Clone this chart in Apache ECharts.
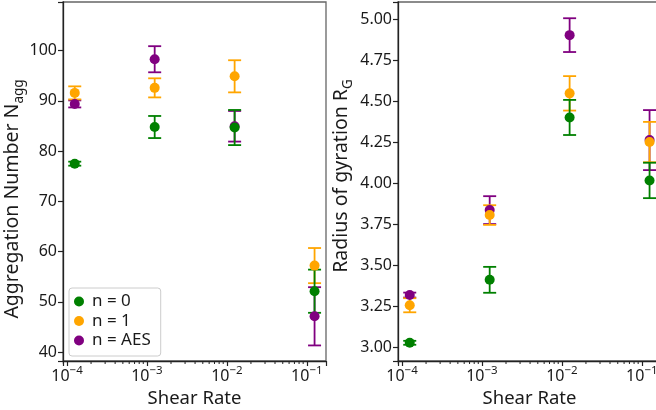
<!DOCTYPE html>
<html><head><meta charset="utf-8">
<script src="https://cdn.jsdelivr.net/npm/echarts@6/dist/echarts.min.js"></script>
<style>html,body{margin:0;padding:0;background:#fff}#c{width:656px;height:410px}</style>
</head><body><div id="c"></div>
<script>
// ---- data ----
const shearRates = [1.25e-4, 1.25e-3, 1.25e-2, 1.25e-1];
const seriesNames = ['n = 0', 'n = 1', 'n = AES'];
const seriesColors = ['#008000', '#FFA500', '#800080'];
const aggN0 = [77.5, 84.8, 84.7, 52.1];
const aggN0Err = [0.4, 2.2, 3.5, 4.3];
const aggN1 = [91.6, 92.6, 94.9, 57.2];
const aggN1Err = [1.3, 1.9, 3.2, 3.5];
const aggAES = [89.4, 98.3, 84.95, 47.1];
const aggAESErr = [0.7, 2.6, 3.05, 5.8];
const rgN0 = [3.026, 3.41, 4.40, 4.016];
const rgN0Err = [0.012, 0.079, 0.107, 0.108];
const rgN1 = [3.255, 3.805, 4.547, 4.25];
const rgN1Err = [0.043, 0.06, 0.105, 0.123];
const rgAES = [3.317, 3.835, 4.902, 4.262];
const rgAESErr = [0.015, 0.085, 0.103, 0.183];
const aggTickStep = 10;
const rgTickStep = 0.25;
const xTitle = 'Shear Rate';
const aggTitle = ['Aggregation Number N', 'agg'];
const rgTitle = ['Radius of gyration R', 'G'];

const FONT = 'Noto Sans';
const TXT = '#1a1a1a';
const xMin = Math.pow(10, -4.05), xMax = Math.pow(10, -0.76);
const aggMin = 38.2, aggMax = 109.7;
const rgMin = 2.915, rgMax = 5.104;

function minorTickValues(lo, hi) {
  const out = [];
  for (let e = -6; e <= 1; e++) for (let m = 2; m <= 9; m++) {
    const v = m * Math.pow(10, e);
    if (v > lo && v < hi) out.push(v);
  }
  return out;
}

function errRender(params, api) {
  const x = api.value(0), y = api.value(1), e = api.value(2);
  const top = api.coord([x, y + e]), bot = api.coord([x, y - e]);
  const hw = 6.5;
  const st = { stroke: api.visual('color'), lineWidth: 1.8 };
  return { type: 'group', children: [
    { type: 'line', shape: { x1: top[0], y1: top[1], x2: bot[0], y2: bot[1] }, style: st },
    { type: 'line', shape: { x1: top[0] - hw, y1: top[1], x2: top[0] + hw, y2: top[1] }, style: st },
    { type: 'line', shape: { x1: bot[0] - hw, y1: bot[1], x2: bot[0] + hw, y2: bot[1] }, style: st }
  ]};
}
function minorRender(params, api) {
  const p = api.coord([api.value(0), api.value(1)]);
  return { type: 'line', shape: { x1: p[0], y1: p[1], x2: p[0], y2: p[1] + 3 },
           style: { stroke: '#222', lineWidth: 1 } };
}

const groups = [
  { grid: 0, vals: [aggN0, aggN1, aggAES], errs: [aggN0Err, aggN1Err, aggAESErr], ymin: aggMin },
  { grid: 1, vals: [rgN0, rgN1, rgAES], errs: [rgN0Err, rgN1Err, rgAESErr], ymin: rgMin }
];
const series = [];
const drawOrder = [2, 1, 0];
groups.forEach(g => {
  series.push({
    type: 'custom', name: 'minor' + g.grid, xAxisIndex: g.grid, yAxisIndex: g.grid,
    silent: true, clip: false, renderItem: minorRender,
    data: minorTickValues(xMin, xMax).map(v => [v, g.ymin])
  });
  drawOrder.forEach(k => {
    series.push({
      type: 'custom', name: 'err ' + seriesNames[k], xAxisIndex: g.grid, yAxisIndex: g.grid,
      silent: true, clip: false, renderItem: errRender, itemStyle: { color: seriesColors[k] },
      encode: { x: 0, y: 1 },
      data: shearRates.map((x, i) => [x, g.vals[k][i], g.errs[k][i]])
    });
    series.push({
      type: 'scatter', name: seriesNames[k], xAxisIndex: g.grid, yAxisIndex: g.grid,
      symbolSize: 10, itemStyle: { color: seriesColors[k], opacity: 1 },
      data: shearRates.map((x, i) => [x, g.vals[k][i]])
    });
  });
});

function xAxisCfg(idx) {
  return {
    type: 'log', logBase: 10, gridIndex: idx, min: xMin, max: xMax,
    axisLine: { show: true, onZero: false, lineStyle: { color: '#222', width: 1.3 } },
    axisTick: { show: true, length: 5, lineStyle: { color: '#222', width: 1.2 } },
    splitLine: { show: false },
    axisLabel: {
      margin: 4, hideOverlap: false,
      formatter: v => {
        const e = Math.log10(v);
        if (Math.abs(e - Math.round(e)) > 1e-6) return '';
        const r = Math.round(e);
        return '{b|10}{s|' + (r < 0 ? '\u2212' + (-r) : r) + '}';
      },
      rich: {
        b: { fontSize: 16, fontFamily: FONT, color: TXT, verticalAlign: 'bottom' },
        s: { fontSize: 11.5, fontFamily: FONT, color: TXT, verticalAlign: 'bottom', padding: [0, 0, 7, 0] }
      }
    },
    name: xTitle, nameLocation: 'middle', nameGap: 24,
    nameTextStyle: { fontSize: 18.5, fontFamily: FONT, color: TXT }
  };
}
function yAxisCfg(idx, mn, mx, step, dec) {
  return {
    type: 'value', gridIndex: idx, min: mn, max: mx, minInterval: step, maxInterval: step,
    axisLine: { show: true, onZero: false, lineStyle: { color: '#222', width: 1.3 } },
    axisTick: { show: true, length: 5, lineStyle: { color: '#222', width: 1.2 } },
    splitLine: { show: false },
    axisLabel: {
      margin: 6, fontSize: 16, fontFamily: FONT, color: TXT,
      formatter: v => {
        const k = Math.round(v / step);
        if (Math.abs(v - k * step) > 1e-6) return '';
        return (k * step).toFixed(dec);
      }
    }
  };
}
const titleRich = {
  a: { fontSize: 19.5, fontFamily: FONT, fill: TXT, verticalAlign: 'top', lineHeight: 22 },
  s: { fontSize: 13.5, fontFamily: FONT, fill: TXT, verticalAlign: 'top', lineHeight: 14, padding: [10, 0, 0, 0] }
};
function yTitle(parts, cx, cy) {
  return {
    type: 'text', x: cx, y: cy, rotation: Math.PI / 2, silent: true,
    style: { text: '{a|' + parts[0] + '}{s|' + parts[1] + '}', rich: titleRich,
             align: 'center', verticalAlign: 'middle', fill: TXT }
  };
}

const chart = echarts.init(document.getElementById('c'), null, { renderer: 'canvas' });
chart.setOption({
  animation: false,
  backgroundColor: '#fff',
  grid: [
    { left: 63, top: 2, width: 263, height: 359, show: true, borderColor: '#666', borderWidth: 1.3,
      backgroundColor: 'transparent', containLabel: false, outerBoundsMode: 'none' },
    { left: 398, top: 2, width: 263, height: 359, show: true, borderColor: '#666', borderWidth: 1.3,
      backgroundColor: 'transparent', containLabel: false, outerBoundsMode: 'none' }
  ],
  xAxis: [xAxisCfg(0), xAxisCfg(1)],
  yAxis: [
    yAxisCfg(0, aggMin, aggMax, aggTickStep, 0),
    yAxisCfg(1, rgMin, rgMax, rgTickStep, 2)
  ],
  graphic: [ yTitle(aggTitle, 13, 199), yTitle(rgTitle, 342, 176) ],
  legend: {
    orient: 'vertical', left: 69, top: 288, data: seriesNames, icon: 'circle',
    itemWidth: 12, itemHeight: 10, itemGap: 2.5, padding: [5, 10, 7, 5],
    borderColor: '#ccc', borderWidth: 1, borderRadius: 3, backgroundColor: 'rgba(255,255,255,0.8)',
    textStyle: { fontSize: 17, fontFamily: FONT, color: TXT, lineHeight: 17, padding: [0, 0, 0, 2] }
  },
  series: series
});
</script>
</body></html>
